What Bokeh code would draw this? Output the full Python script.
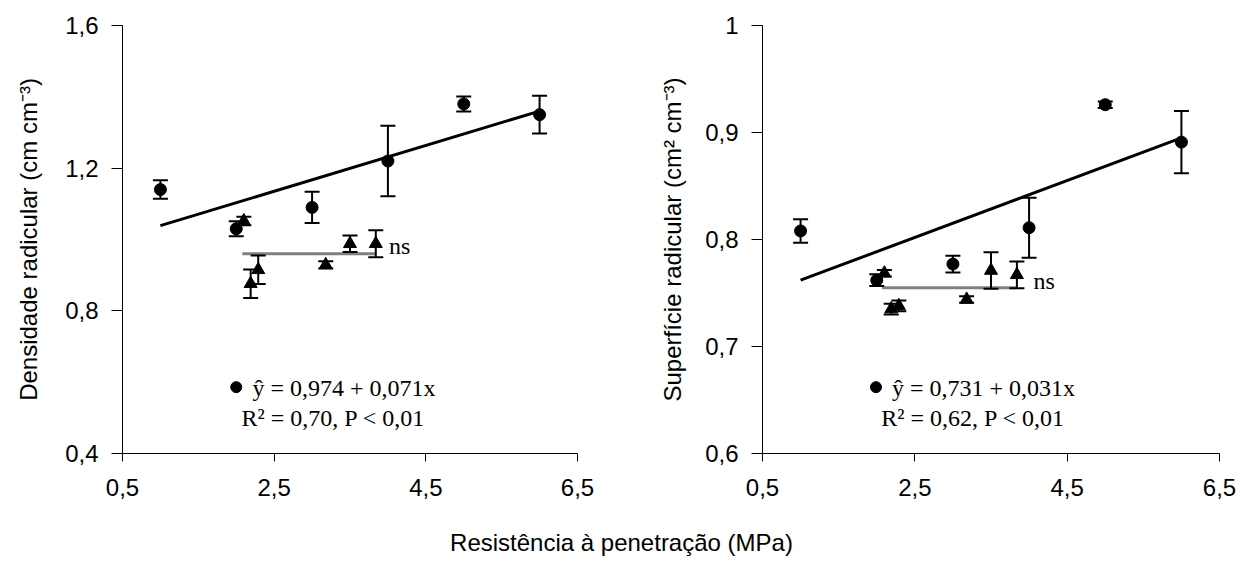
from bokeh.plotting import figure
from bokeh.layouts import column, row
from bokeh.models import ColumnDataSource, Whisker, TeeHead, FixedTicker, Range1d
from bokeh.core.properties import value
from bokeh.embed import file_html
from bokeh.resources import INLINE

# ---------------- data ----------------
res_circ = [1, 2, 3, 4, 5, 6]
res_tri = [2.10, 2.19, 2.29, 3.18, 3.50, 3.84]

dens_circ = [1.14, 1.03, 1.09, 1.22, 1.38, 1.35]
dens_circ_err = [0.026, 0.021, 0.044, 0.099, 0.021, 0.053]
dens_tri = [1.052, 0.876, 0.915, 0.929, 0.988, 0.988]
dens_tri_err = [0.012, 0.040, 0.040, 0.010, 0.023, 0.038]

surf_circ = [0.808, 0.762, 0.777, 0.811, 0.926, 0.891]
surf_circ_err = [0.011, 0.0055, 0.0078, 0.028, 0.003, 0.029]
surf_tri = [0.7685, 0.735, 0.738, 0.744, 0.771, 0.767]
surf_tri_err = [0.003, 0.005, 0.005, 0.003, 0.017, 0.0125]

dens_fit_x = [1, 6]
dens_fit_y = [1.039, 1.36]
dens_ns_x = [2.08, 3.84]
dens_ns_y = [0.96, 0.96]

surf_fit_x = [1, 6]
surf_fit_y = [0.762, 0.895]
surf_ns_x = [2.07, 3.84]
surf_ns_y = [0.755, 0.755]

x_ticks = [0.5, 2.5, 4.5, 6.5]
x_tick_labels = ["0,5", "2,5", "4,5", "6,5"]
dens_ticks = [0.4, 0.8, 1.2, 1.6]
dens_tick_labels = ["0,4", "0,8", "1,2", "1,6"]
surf_ticks = [0.6, 0.7, 0.8, 0.9, 1.0]
surf_tick_labels = ["0,6", "0,7", "0,8", "0,9", "1"]

dens_eq = "ŷ = 0,974 + 0,071x"
dens_r2 = "R² = 0,70, P < 0,01"
surf_eq = "ŷ = 0,731 + 0,031x"
surf_r2 = "R² = 0,62, P < 0,01"

SANS = "Liberation Sans"
SERIF = "Liberation Serif"


def make_panel(yr, yticks, ylabels, ylab, circ, circ_err, tri, tri_err,
               fit_x, fit_y, ns_x, ns_y, eq, r2, ann, ns_pos,
               border_left, frame_w, border_right, ylab_standoff):
    p = figure(width=border_left + frame_w + border_right, height=25 + 428 + 70,
               frame_width=frame_w, frame_height=428,
               min_border_left=border_left, min_border_right=border_right,
               min_border_top=25, min_border_bottom=70,
               x_range=Range1d(0.5, 6.5), y_range=Range1d(*yr),
               output_backend="svg", toolbar_location=None)
    p.outline_line_color = None
    p.xgrid.visible = False
    p.ygrid.visible = False

    p.xaxis.ticker = FixedTicker(ticks=x_ticks)
    p.xaxis.major_label_overrides = dict(zip(x_ticks, x_tick_labels))
    p.yaxis.ticker = FixedTicker(ticks=yticks)
    p.yaxis.major_label_overrides = dict(zip(yticks, ylabels))
    for ax in (p.xaxis, p.yaxis):
        ax.minor_tick_line_color = None
        ax.major_tick_in = 0
        ax.axis_line_color = "black"
        ax.major_tick_line_color = "black"
        ax.major_label_text_font = SANS
        ax.major_label_text_font_size = "24px"
        ax.major_label_text_color = "black"
        ax.axis_label_text_font = SANS
        ax.axis_label_text_font_size = "24px"
        ax.axis_label_text_font_style = "normal"
        ax.axis_label_text_color = "black"
    p.xaxis.major_tick_out = 8
    p.xaxis.major_label_standoff = 17
    p.yaxis.major_tick_out = 11
    p.yaxis.major_label_standoff = 13
    p.yaxis.axis_label = ylab
    p.yaxis.axis_label_standoff = ylab_standoff

    # regression lines
    p.line(fit_x, fit_y, line_color="black", line_width=3)
    p.line(ns_x, ns_y, line_color="#808080", line_width=3)

    # error bars
    cs = ColumnDataSource(dict(x=res_circ, y=circ,
                               lo=[a - b for a, b in zip(circ, circ_err)],
                               hi=[a + b for a, b in zip(circ, circ_err)]))
    ts = ColumnDataSource(dict(x=res_tri, y=tri,
                               lo=[a - b for a, b in zip(tri, tri_err)],
                               hi=[a + b for a, b in zip(tri, tri_err)]))
    for src in (cs, ts):
        w = Whisker(source=src, base="x", upper="hi", lower="lo",
                    line_color="black", line_width=2,
                    upper_head=TeeHead(size=15, line_width=2, line_color="black"),
                    lower_head=TeeHead(size=15, line_width=2, line_color="black"))
        w.level = "glyph"
        p.add_layout(w)

    p.scatter("x", "y", source=cs, marker="circle", size=12,
              fill_color="black", line_color="black")
    p.scatter("x", "y", source=ts, marker="triangle", size=13,
              fill_color="black", line_color="black")

    # ns label
    p.text(x=[ns_pos[0]], y=[ns_pos[1]], text=["ns"], text_font=value(SERIF),
           text_font_size="24px", text_color="black",
           text_align="left", text_baseline="alphabetic")

    # equation annotation
    bx, by, ex, ey, rx, ry = ann
    p.scatter(x=[bx], y=[by], marker="circle", size=11,
              fill_color="black", line_color="black")
    p.text(x=[ex, rx], y=[ey, ry], text=[eq, r2], text_font=value(SERIF),
           text_font_size="24px", text_color="black",
           text_align="left", text_baseline="alphabetic")
    return p


left = make_panel((0.4, 1.6), dens_ticks, dens_tick_labels,
                  "Densidade radicular (cm cm⁻³)",
                  dens_circ, dens_circ_err, dens_tri, dens_tri_err,
                  dens_fit_x, dens_fit_y, dens_ns_x, dens_ns_y,
                  dens_eq, dens_r2,
                  (2.0, 0.586, 2.215, 0.584, 2.07, 0.500), (4.013, 0.983),
                  122, 455, 43, 20)

right = make_panel((0.6, 1.0), surf_ticks, surf_tick_labels,
                   "Superfície radicular (cm² cm⁻³)",
                   surf_circ, surf_circ_err, surf_tri, surf_tri_err,
                   surf_fit_x, surf_fit_y, surf_ns_x, surf_ns_y,
                   surf_eq, surf_r2,
                   (1.99, 0.662, 2.20, 0.661, 2.06, 0.633), (4.057, 0.761),
                   142, 457, 23, 16)

title = figure(width=1242, height=40, x_range=Range1d(0, 1242), y_range=Range1d(0, 40),
               output_backend="svg", toolbar_location=None,
               min_border=0)
title.axis.visible = False
title.grid.visible = False
title.outline_line_color = None
title.text(x=[621], y=[21], text=["Resistência à penetração (MPa)"],
           text_font=value(SANS), text_font_size="24px", text_color="black",
           text_align="center", text_baseline="middle")

layout = column(row(left, right), title)
open("out.html", "w").write(file_html(layout, INLINE))
